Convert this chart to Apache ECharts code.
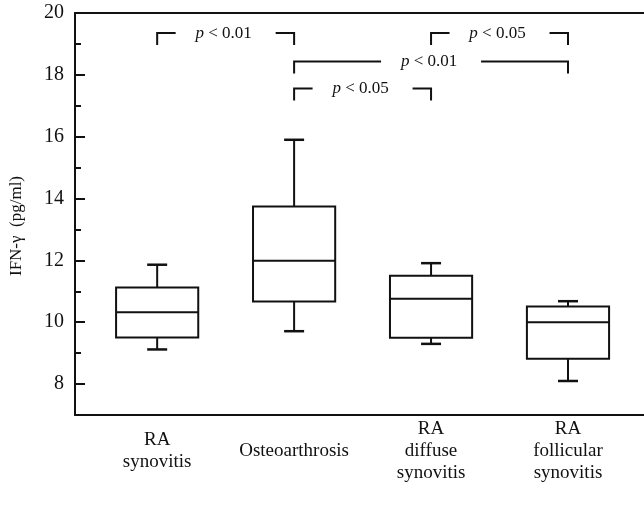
<!DOCTYPE html>
<html><head><meta charset="utf-8">
<script src="https://cdn.jsdelivr.net/npm/echarts@6/dist/echarts.min.js"></script>
<style>html,body{margin:0;padding:0;background:#fff}#c{width:644px;height:510px}</style>
</head><body><div id="c"></div>
<script>
const categories = ['RA\nsynovitis', 'Osteoarthrosis', 'RA\ndiffuse\nsynovitis', 'RA\nfollicular\nsynovitis'];
const whiskerLow = [9.12, 9.71, 9.30, 8.10];
const q1 = [9.51, 10.67, 9.50, 8.82];
const median = [10.32, 11.99, 10.76, 10.00];
const q3 = [11.12, 13.74, 11.50, 10.51];
const whiskerHigh = [11.86, 15.90, 11.91, 10.68];
const yTickLabels = [8, 10, 12, 14, 16, 18, 20];
const yMinorTicks = [9, 11, 13, 15, 17, 19];
const categoryPositions = [0, 1, 2, 3];
const bracketFrom = [0, 2, 1, 1];
const bracketTo = [1, 3, 3, 2];
const bracketY = [19.35, 19.35, 18.43, 17.56];
const bracketLabel = ['< 0.01', '< 0.05', '< 0.01', '< 0.05'];

const FONT = '"Liberation Serif", "DejaVu Serif", serif';
const INK = '#111';

const boxData = categoryPositions.map((x, i) => [x, whiskerLow[i], q1[i], median[i], q3[i], whiskerHigh[i]]);
const bracketData = bracketFrom.map((f, i) => [f, bracketTo[i], bracketY[i], bracketLabel[i]]);

const chart = echarts.init(document.getElementById('c'), null, {renderer: 'canvas'});
const lineStyle = {stroke: INK, lineWidth: 2, fill: null};

chart.setOption({
  animation: false,
  backgroundColor: '#fff',
  grid: {left: 75, right: 0, top: 13, bottom: 95, containLabel: false, outerBoundsMode: 'none'},
  xAxis: [{
    type: 'value', min: -0.6, max: 3.555, position: 'bottom',
    axisLine: {show: true, onZero: false, lineStyle: {color: INK, width: 2}},
    axisTick: {show: false}, splitLine: {show: false},
    axisLabel: {
      customValues: categoryPositions, margin: 36, verticalAlign: 'middle',
      formatter: v => categories[Math.round(v)] || '',
      fontFamily: FONT, fontSize: 19, color: INK, lineHeight: 22, align: 'center'
    }
  }, {
    type: 'value', min: -0.6, max: 3.555, position: 'top',
    axisLine: {show: true, onZero: false, lineStyle: {color: INK, width: 2}},
    axisTick: {show: false}, splitLine: {show: false}, axisLabel: {show: false}
  }],
  yAxis: [{
    type: 'value', min: 7, max: 20, position: 'left',
    name: 'IFN-\u03b3  (pg/ml)', nameLocation: 'middle', nameGap: 50, nameRotate: 90,
    nameTextStyle: {fontFamily: FONT, fontSize: 17, color: INK, padding: [0, 24, 0, 0]},
    axisLine: {show: true, onZero: false, lineStyle: {color: INK, width: 2}},
    axisTick: {show: true, inside: true, length: 10, customValues: yTickLabels, lineStyle: {color: INK, width: 2}},
    axisLabel: {customValues: yTickLabels, margin: 11, fontFamily: FONT, fontSize: 20, color: INK},
    splitLine: {show: false}
  }, {
    type: 'value', min: 7, max: 20, position: 'left',
    axisLine: {show: false, onZero: false},
    axisTick: {show: true, inside: true, length: 6, customValues: yMinorTicks, lineStyle: {color: INK, width: 2}},
    axisLabel: {show: false}, splitLine: {show: false}
  }],
  series: [{
    type: 'custom', name: 'box', xAxisIndex: 0, yAxisIndex: 0,
    encode: {x: 0, y: [1, 2, 3, 4, 5]},
    data: boxData, clip: false,
    renderItem: function (params, api) {
      const x = api.value(0);
      const pLow = api.coord([x, api.value(1)]);
      const pQ1 = api.coord([x, api.value(2)]);
      const pMed = api.coord([x, api.value(3)]);
      const pQ3 = api.coord([x, api.value(4)]);
      const pHigh = api.coord([x, api.value(5)]);
      const half = api.size([0.6, 0])[0] / 2;
      const cap = 10;
      const cx = pMed[0];
      return {
        type: 'group',
        children: [
          {type: 'line', shape: {x1: cx, y1: pQ3[1], x2: cx, y2: pHigh[1]}, style: lineStyle},
          {type: 'line', shape: {x1: cx - cap, y1: pHigh[1], x2: cx + cap, y2: pHigh[1]}, style: {stroke: INK, lineWidth: 2.5}},
          {type: 'line', shape: {x1: cx, y1: pQ1[1], x2: cx, y2: pLow[1]}, style: lineStyle},
          {type: 'line', shape: {x1: cx - cap, y1: pLow[1], x2: cx + cap, y2: pLow[1]}, style: {stroke: INK, lineWidth: 2.5}},
          {type: 'rect', shape: {x: cx - half, y: pQ3[1], width: 2 * half, height: pQ1[1] - pQ3[1]}, style: {fill: '#fff', stroke: INK, lineWidth: 2}},
          {type: 'line', shape: {x1: cx - half, y1: pMed[1], x2: cx + half, y2: pMed[1]}, style: lineStyle}
        ]
      };
    }
  }, {
    type: 'custom', name: 'brackets', xAxisIndex: 0, yAxisIndex: 0,
    encode: {x: [0, 1], y: 2},
    data: bracketData, clip: false,
    renderItem: function (params, api) {
      const p1 = api.coord([api.value(0), api.value(2)]);
      const p2 = api.coord([api.value(1), api.value(2)]);
      const leg = 12;
      const gap = 50;
      const mid = (p1[0] + p2[0]) / 2;
      const y = p1[1];
      const label = bracketData[params.dataIndex][3];
      return {
        type: 'group',
        children: [
          {type: 'polyline', shape: {points: [[p1[0], y + leg], [p1[0], y], [mid - gap, y]]}, style: lineStyle},
          {type: 'polyline', shape: {points: [[mid + gap, y], [p2[0], y], [p2[0], y + leg]]}, style: lineStyle},
          {type: 'text', x: mid - 2, y: y, style: {
            text: '{i|p} ' + label, align: 'center', verticalAlign: 'middle',
            fontFamily: FONT, fontSize: 17, fill: INK,
            rich: {i: {fontStyle: 'italic', fontFamily: FONT, fontSize: 17, fill: INK}}
          }}
        ]
      };
    }
  }]
});
</script>
</body></html>
